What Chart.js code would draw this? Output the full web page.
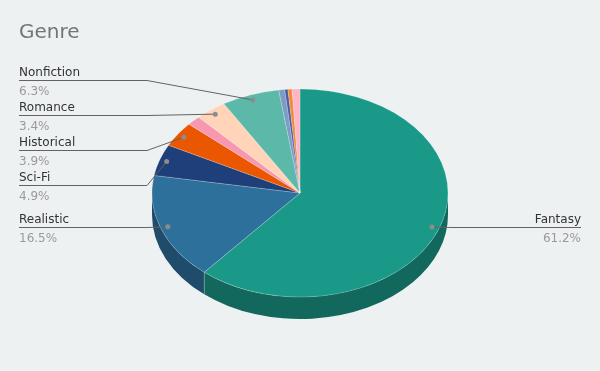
<!DOCTYPE html>
<html lang="en">
<head>
<meta charset="UTF-8">
<title>Genre</title>
<script src="https://cdn.jsdelivr.net/npm/chart.js"></script>
<style>
  html, body { margin: 0; padding: 0; background: #eef1f2; }
</style>
</head>
<body>
<canvas id="genreChart" width="600" height="371"></canvas>
<script>
// data (percent of books)
const genres = ['Fantasy', 'Realistic', 'Sci-Fi', 'Historical', 'Mystery', 'Romance',
                'Nonfiction', 'Poetry', 'Biography', 'Horror', 'Graphic Novel'];
const shares = [61.2, 16.5, 4.9, 3.9, 1.5, 3.4, 6.3, 0.65, 0.35, 0.45, 0.85];
const sliceColors = ['#1a9988', '#2d709c', '#1f3f7a', '#eb5600', '#f797b0', '#ffd4b8',
                     '#5cb9aa', '#7b9cc4', '#4c5d9e', '#f28a3c', '#ffb5c5'];

const TILT = 0.703;     // vertical squash for the 3D look
const DEPTH = 22;       // thickness of the pie side
const STEP = 35;        // vertical room for one label
const MIN_LABEL = 2;    // slices under this % get no label

function shade(hex, f) {
    const n = parseInt(hex.slice(1), 16);
    const r = Math.round(((n >> 16) & 255) * f);
    const g = Math.round(((n >> 8) & 255) * f);
    const b = Math.round((n & 255) * f);
    return `rgb(${r},${g},${b})`;
}

// draws the side of the pie, then squashes the top
const tiltPlugin = {
    id: 'tilt',
    beforeDatasetsDraw(chart) {
        const ctx = chart.ctx;
        const arcs = chart.getDatasetMeta(0).data;
        if (!arcs.length) return;
        const cx = arcs[0].x, cy = arcs[0].y, r = arcs[0].outerRadius, ry = r * TILT;
        ctx.save();
        arcs.forEach((arc, i) => {
            const s = Math.max(arc.startAngle, 0);
            const e = Math.min(arc.endAngle, Math.PI);
            if (e <= s) return;
            ctx.beginPath();
            ctx.ellipse(cx, cy, r, ry, 0, s, e);
            ctx.ellipse(cx, cy + DEPTH, r, ry, 0, e, s, true);
            ctx.closePath();
            ctx.fillStyle = shade(sliceColors[i], 0.68);
            ctx.fill();
        });
        // edges between slices on the side
        ctx.strokeStyle = 'rgba(255,255,255,0.25)';
        ctx.lineWidth = 1;
        arcs.forEach(arc => {
            const a = arc.endAngle;
            if (a > 0 && a < Math.PI) {
                const x = cx + r * Math.cos(a), y = cy + ry * Math.sin(a);
                ctx.beginPath();
                ctx.moveTo(x, y);
                ctx.lineTo(x, y + DEPTH);
                ctx.stroke();
            }
        });
        ctx.restore();
        ctx.save();
        ctx.translate(cx, cy);
        ctx.scale(1, TILT);
        ctx.translate(-cx, -cy);
    },
    afterDatasetsDraw(chart) {
        chart.ctx.restore();
    }
};

// spread labels so they don't overlap, keeping groups centred on their anchors
function spread(list) {
    let groups = list.map(o => ({ items: [o], c: o.wy }));
    let merged = true;
    while (merged) {
        merged = false;
        for (let k = 0; k < groups.length - 1; k++) {
            const g1 = groups[k], g2 = groups[k + 1];
            const bottom1 = g1.c + (g1.items.length - 1) * STEP / 2;
            const top2 = g2.c - (g2.items.length - 1) * STEP / 2;
            if (top2 - bottom1 < STEP) {
                const items = g1.items.concat(g2.items);
                const c = items.reduce((s, o) => s + o.wy, 0) / items.length;
                groups.splice(k, 2, { items, c });
                merged = true;
                break;
            }
        }
    }
    groups.forEach(g => {
        g.items.forEach((o, j) => {
            // single labels sit right on their dot
            o.ly = g.items.length === 1 ? o.ay : g.c + (j - (g.items.length - 1) / 2) * STEP;
        });
    });
}

const labelPlugin = {
    id: 'sliceLabels',
    afterDraw(chart) {
        const ctx = chart.ctx;
        const arcs = chart.getDatasetMeta(0).data;
        if (!arcs.length) return;
        const cx = arcs[0].x, cy = arcs[0].y, r = arcs[0].outerRadius;
        const area = chart.chartArea;
        const total = shares.reduce((a, b) => a + b, 0);
        const items = [];
        arcs.forEach((arc, i) => {
            const pct = shares[i] / total * 100;
            if (pct < MIN_LABEL) return;
            const m = (arc.startAngle + arc.endAngle) / 2;
            items.push({
                i, pct,
                ax: cx + 0.95 * r * Math.cos(m),
                ay: cy + 0.95 * r * TILT * Math.sin(m),
                wy: cy + 0.89 * r * TILT * Math.sin(m),
                left: Math.cos(m) < 0
            });
        });

        ctx.save();
        [true, false].forEach(left => {
            const list = items.filter(o => o.left === left).sort((a, b) => a.ay - b.ay);
            spread(list);
            list.forEach(o => {
                const edge = left ? area.left : area.right;
                let bend = left ? cx - r - 5 : cx + r + 5;
                if (left ? o.ax < bend : o.ax > bend) bend = o.ax;
                const y = Math.round(o.ly) + 0.5;

                ctx.strokeStyle = '#636363';
                ctx.lineWidth = 1;
                ctx.beginPath();
                ctx.moveTo(edge, y);
                ctx.lineTo(bend, y);
                ctx.lineTo(o.ax, o.ay);
                ctx.stroke();

                ctx.fillStyle = '#8c8c8c';
                ctx.beginPath();
                ctx.arc(o.ax, o.ay, 2.5, 0, Math.PI * 2);
                ctx.fill();

                ctx.textAlign = left ? 'left' : 'right';
                ctx.textBaseline = 'alphabetic';
                ctx.font = '12px "DejaVu Sans"';
                ctx.fillStyle = '#333333';
                ctx.fillText(genres[o.i], edge, y - 4.5);
                ctx.fillStyle = '#9a9a9a';
                ctx.fillText(o.pct.toFixed(1) + '%', edge, y + 14.5);
            });
        });
        ctx.restore();
    }
};

const ctx = document.getElementById('genreChart').getContext('2d');
new Chart(ctx, {
    type: 'pie',
    data: {
        labels: genres,
        datasets: [{
            data: shares,
            backgroundColor: sliceColors,
            borderColor: 'rgba(255,255,255,0.25)',
            borderWidth: 1,
            radius: 148,
            clip: false
        }]
    },
    options: {
        responsive: false,
        animation: false,
        layout: { padding: { left: 19, right: 19, top: 0, bottom: 30 } },
        plugins: {
            legend: { display: false },
            tooltip: { enabled: false },
            title: {
                display: true,
                text: 'Genre',
                align: 'start',
                color: '#757575',
                font: { family: 'DejaVu Sans', size: 20, weight: 'normal' },
                padding: { top: 21, bottom: 0 }
            }
        }
    },
    plugins: [tiltPlugin, labelPlugin]
});
</script>
</body>
</html>
